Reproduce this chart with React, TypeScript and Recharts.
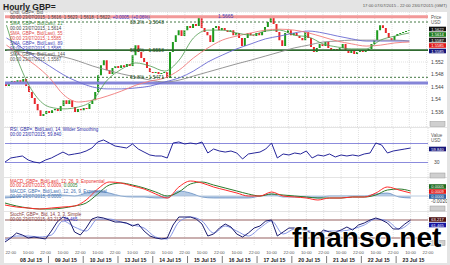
import React from 'react';
import {
  ComposedChart,
  Bar,
  Line,
  Area,
  XAxis,
  YAxis,
  CartesianGrid,
  ReferenceLine,
  Cell
} from 'recharts';

// 2-hour closes, first bar = 18:00 07/07/2015
const closes = [
  1.5443, 1.5453, 1.5459, 1.545, 1.5462, 1.5456, 1.5466, 1.5443, 1.5424, 1.5405,
  1.5386, 1.5366, 1.5347, 1.5354, 1.5363, 1.5357, 1.5366, 1.537, 1.5363, 1.5379,
  1.5398, 1.5386, 1.5398, 1.5376, 1.536, 1.537, 1.5366, 1.5373, 1.537, 1.5386,
  1.5398, 1.5424, 1.5478, 1.551, 1.5526, 1.5494, 1.5482, 1.5501, 1.5507, 1.5501,
  1.551, 1.5504, 1.5514, 1.5507, 1.5542, 1.5574, 1.5552, 1.5533, 1.552, 1.5501,
  1.5488, 1.5485, 1.5488, 1.5482, 1.5485, 1.5488, 1.5469, 1.5552, 1.5584, 1.5606,
  1.5622, 1.5603, 1.5622, 1.5635, 1.5629, 1.5642, 1.5635, 1.5664, 1.5629, 1.5616,
  1.5606, 1.5584, 1.5629, 1.5635, 1.5622, 1.5629, 1.5622, 1.5616, 1.5622, 1.5606,
  1.5613, 1.5597, 1.5571, 1.5597, 1.5613, 1.5606, 1.5603, 1.5613, 1.5606, 1.5616,
  1.5632, 1.5648, 1.5667, 1.5642, 1.5616, 1.559, 1.5571, 1.5613, 1.5622, 1.5606,
  1.5613, 1.5603, 1.5597, 1.559, 1.5616, 1.5597, 1.5568, 1.5552, 1.5565, 1.5578,
  1.5571, 1.5584, 1.5565, 1.5558, 1.5562, 1.5558, 1.5565, 1.5578, 1.5558, 1.5549,
  1.5558, 1.5546, 1.5552, 1.5558, 1.5552, 1.5558, 1.5562, 1.5578, 1.559, 1.5622,
  1.5638, 1.5629, 1.5613, 1.5597, 1.559, 1.5603, 1.561, 1.5613, 1.5616, 1.5619,
  1.5622
];
const firstOpen = 1.545;

// moving averages, one value every 5 bars
const sma21 = [
  1.5638, 1.5501, 1.5414, 1.5376, 1.537, 1.5376, 1.5398, 1.5462, 1.5497, 1.5517,
  1.5507, 1.5491, 1.5526, 1.5597, 1.5622, 1.5622, 1.5613, 1.5606, 1.5619, 1.5622,
  1.5606, 1.56, 1.5578, 1.5568, 1.5562, 1.5562, 1.559, 1.5603, 1.5613
];
const sma55 = [
  1.5574, 1.5542, 1.551, 1.5469, 1.5414, 1.5392, 1.5398, 1.5411, 1.5427, 1.5446,
  1.5459, 1.5469, 1.5494, 1.5533, 1.5565, 1.559, 1.5603, 1.5613, 1.5622, 1.5625,
  1.5622, 1.5613, 1.56, 1.5587, 1.5578, 1.5571, 1.5574, 1.5581, 1.5584
];
const sma89 = [
  1.5597, 1.5568, 1.5536, 1.5507, 1.5478, 1.5456, 1.544, 1.5434, 1.5434, 1.5437,
  1.5443, 1.5456, 1.5469, 1.5491, 1.552, 1.5542, 1.5562, 1.5578, 1.5594, 1.5603,
  1.5613, 1.5619, 1.5613, 1.5603, 1.5594, 1.5587, 1.5587, 1.5587, 1.5587
];
const sma144 = [
  1.5558, 1.5552, 1.5546, 1.5542, 1.5536, 1.5523, 1.5507, 1.5494, 1.5482, 1.5472,
  1.5462, 1.5456, 1.5462, 1.5475, 1.5488, 1.5501, 1.5514, 1.5526, 1.5539, 1.5552,
  1.5565, 1.5574, 1.5584, 1.5587, 1.559, 1.559, 1.559, 1.559, 1.5587
];

// RSI 14, one value every 2 bars
const rsi = [
  31, 39.5, 41.6, 43.7, 35.3, 31, 29, 35.3, 39.5, 45.8,
  52, 45.8, 47.9, 50, 54.2, 60.5, 73.2, 77.4, 71, 64.7,
  62.6, 60.5, 69, 58.4, 52, 45.8, 43.7, 43.7, 39.5, 71,
  73.2, 69, 71, 69, 73.2, 50, 58.4, 54.2, 52, 54.2,
  50, 37.4, 47.9, 50, 52, 58.4, 71, 39.5, 47.9, 45.8,
  50, 47.9, 54.2, 39.5, 45.8, 43.7, 47.9, 41.6, 45.8, 43.7,
  45.8, 43.7, 47.9, 50, 71, 66.8, 50, 54.2, 56.3, 58.4,
  60.5
];

// MACD 12/26/9, one value every 4 bars
const macdLine = [
  -0.0036, -0.0044, -0.0048, -0.0052, -0.0048, -0.0044, -0.004, -0.0016, 0.0028, 0.0056,
  0.0052, 0.004, 0.0028, 0.0008, -0.0008, 0.0036, 0.006, 0.0052, 0.0036, 0.0024,
  0.0012, 0, 0, 0.0016, 0, -0.0004, -0.0008, -0.0016, -0.0008, -0.0008,
  -0.0004, -0.0004, 0.0012, 0.0036, 0.0024, 0.0012
];
const macdSignal = [
  -0.0028, -0.004, -0.0048, -0.0052, -0.0052, -0.0048, -0.004, -0.0028, 0.0008, 0.0044,
  0.0052, 0.0044, 0.0032, 0.0016, 0, 0.0016, 0.0048, 0.0056, 0.0044, 0.0032,
  0.002, 0.0008, 0, 0.0008, 0.0004, 0, -0.0004, -0.0008, -0.0008, -0.0008,
  -0.0004, -0.0004, 0.0004, 0.0024, 0.0028, 0.002
];
const macdHist = [
  -0.0008, -0.0004, 0, 0, 0.0004, 0.0004, 0, 0.0012, 0.002, 0.0012,
  0, -0.0004, -0.0004, -0.0008, -0.0008, 0.002, 0.0012, -0.0004, -0.0008, -0.0008,
  -0.0008, -0.0008, 0, 0.0008, -0.0004, -0.0004, -0.0004, -0.0008, 0, 0,
  0, 0, 0.0008, 0.0012, -0.0004, -0.0008
];

// Stochastic 14/3/3: %K every 2 bars, %D every 4 bars
const stochK = [
  6.7, 20, 36.7, 30, 20, 23.3, 20, 16.7, 43.3, 73.3,
  90, 83.3, 40, 30, 53.3, 83.3, 90, 86.7, 80, 73.3,
  73.3, 70, 60, 66.7, 43.3, 26.7, 20, 16.7, 20, 63.3,
  90, 90, 90, 83.3, 66.7, 26.7, 33.3, 53.3, 66.7, 56.7,
  33.3, 23.3, 36.7, 53.3, 60, 76.7, 80, 26.7, 40, 53.3,
  53.3, 50, 43.3, 36.7, 33.3, 46.7, 40, 40, 46.7, 56.7,
  46.7, 63.3, 70, 80, 86.7, 80, 70, 50, 50, 66.7,
  80
];
const stochD = [
  13.3, 26.7, 26.7, 23.3, 30, 76.7, 56.7, 43.3, 83.3, 83.3,
  73.3, 63.3, 53.3, 23.3, 16.7, 73.3, 90, 76.7, 36.7, 60,
  43.3, 26.7, 53.3, 76.7, 33.3, 50, 46.7, 36.7, 43.3, 43.3,
  50, 63.3, 83.3, 76.7, 50, 73.3
];

const dayLabels = [
  '08 Jul 15', '09 Jul 15', '10 Jul 15', '13 Jul 15', '14 Jul 15', '15 Jul 15',
  '16 Jul 15', '17 Jul 15', '20 Jul 15', '21 Jul 15', '22 Jul 15', '23 Jul 15'
];
const timeLabels = ['22:00', '10:00'];

const resistance = { price: 1.5665, label: '1.5665' };
const support = 1.5453;
const fibLevels = [
  { price: 1.5648, label: '38.2% - 1.5648', dashed: true },
  { price: 1.5558, label: '50.0% - 1.5558', dashed: false },
  { price: 1.5471, label: '61.8% - 1.5471', dashed: true }
];
const priceTicks = [1.536, 1.54, 1.544, 1.548, 1.552];

const TOTAL_BARS = 147; // up to 22:00 23/07
const timeTicks = Array.from({ length: 25 }, (_, j) => 2 + 6 * j);
const dateTicks = dayLabels.map((_, d) => 9 + 12 * d);
const sepTicks = Array.from({ length: 11 }, (_, d) => 15 + 12 * d);

const pick = (arr: number[], i: number, step: number) =>
  i % step === 0 && i / step < arr.length ? arr[i / step] : null;

const rows = Array.from({ length: TOTAL_BARS }, (_, i) => {
  const close = i < closes.length ? closes[i] : null;
  const open = i === 0 ? firstOpen : closes[i - 1];
  return {
    i,
    body: close == null ? null : [Math.min(open, close), Math.max(open, close)],
    up: close != null && close >= open,
    sma21: pick(sma21, i, 5),
    sma55: pick(sma55, i, 5),
    sma89: pick(sma89, i, 5),
    sma144: pick(sma144, i, 5),
    rsi: pick(rsi, i, 2),
    macd: pick(macdLine, i, 4),
    signal: pick(macdSignal, i, 4),
    hist: pick(macdHist, i, 4),
    k: pick(stochK, i, 2),
    d: pick(stochD, i, 4)
  };
});

const CHART_W = 443;
const AXIS_W = 19;
const margin = { top: 0, right: 0, bottom: 0, left: 1 };
const tickStyle = { fontSize: 5, fill: '#444' };

const gridLines = () =>
  timeTicks.map((b) => (
    <ReferenceLine key={`g${b}`} x={b} stroke="#cfcfcf" strokeDasharray="1 1" strokeWidth={0.6} />
  ));

function BottomTick(props: any) {
  const { x, y, payload } = props;
  const v = payload.value;
  const t = timeTicks.indexOf(v);
  if (t >= 0) {
    return (
      <text x={x} y={y + 1} fontSize={4.3} textAnchor="middle" fill="#555">
        {timeLabels[t % 2]}
      </text>
    );
  }
  const d = dateTicks.indexOf(v);
  if (d >= 0) {
    return (
      <text x={x} y={y + 8.5} fontSize={5.2} fontWeight="bold" textAnchor="middle" fill="#222">
        {dayLabels[d]}
      </text>
    );
  }
  return <line x1={x} x2={x} y1={y + 3} y2={y + 10} stroke="#444" strokeWidth={0.7} />;
}

function PriceChart() {
  return (
    <ComposedChart width={CHART_W} height={115} data={rows} margin={margin}>
      <XAxis dataKey="i" hide />
      <YAxis
        orientation="right"
        width={AXIS_W}
        domain={[1.5312, 1.568]}
        allowDataOverflow
        ticks={priceTicks}
        tickFormatter={(v) => String(+v.toFixed(3))}
        tick={tickStyle}
        tickSize={2}
        tickMargin={1}
        axisLine={false}
        tickLine={false}
      />
      <CartesianGrid vertical={false} stroke="#cfcfcf" strokeDasharray="1 1" strokeWidth={0.6} />
      {gridLines()}
      <ReferenceLine
        y={resistance.price}
        stroke="#f29999"
        strokeWidth={3}
        label={{ value: resistance.label, position: 'insideLeft', dx: 208, fontSize: 5, fill: '#3d3db5' }}
      />
      <ReferenceLine y={support} stroke="#8585d8" strokeWidth={3} />
      {fibLevels.map((f) => (
        <ReferenceLine
          key={f.label}
          y={f.price}
          stroke="#2f6a2f"
          strokeWidth={f.dashed ? 0.9 : 1.6}
          strokeDasharray={f.dashed ? '2 2' : undefined}
          label={{ value: f.label, position: 'insideLeft', dx: 120, fontSize: 5, fill: '#1f4f1f' }}
        />
      ))}
      <Line dataKey="sma144" type="monotone" connectNulls dot={false} stroke="#8a8a8a" strokeWidth={0.9} isAnimationActive={false} />
      <Line dataKey="sma89" type="monotone" connectNulls dot={false} stroke="#6b6bd2" strokeWidth={0.9} isAnimationActive={false} />
      <Line dataKey="sma55" type="monotone" connectNulls dot={false} stroke="#f07a7a" strokeWidth={0.9} isAnimationActive={false} />
      <Line dataKey="sma21" type="monotone" connectNulls dot={false} stroke="#4f9a4f" strokeWidth={0.8} isAnimationActive={false} />
      <Bar dataKey="body" barSize={2} isAnimationActive={false}>
        {rows.map((r) => (
          <Cell key={r.i} fill={r.up ? '#1c9a1c' : '#e8262b'} />
        ))}
      </Bar>
    </ComposedChart>
  );
}

function RsiChart() {
  return (
    <ComposedChart width={CHART_W} height={49} data={rows} margin={margin}>
      <XAxis dataKey="i" hide />
      <YAxis
        orientation="right"
        width={AXIS_W}
        domain={[-0.5, 102.6]}
        allowDataOverflow
        ticks={[30]}
        tick={tickStyle}
        tickSize={2}
        tickMargin={4}
        axisLine={false}
        tickLine={false}
      />
      {gridLines()}
      <ReferenceLine y={70} stroke="#8b8bdc" strokeWidth={1.1} />
      <ReferenceLine y={30} stroke="#8b8bdc" strokeWidth={1.1} />
      <Line dataKey="rsi" type="linear" connectNulls dot={false} stroke="#26269a" strokeWidth={1} isAnimationActive={false} />
    </ComposedChart>
  );
}

function MacdChart() {
  return (
    <ComposedChart width={CHART_W} height={33} data={rows} margin={margin}>
      <XAxis dataKey="i" hide />
      <YAxis
        orientation="right"
        width={AXIS_W}
        domain={[-0.006, 0.0072]}
        allowDataOverflow
        ticks={[-0.002]}
        tickFormatter={(v) => v.toFixed(4)}
        tick={tickStyle}
        tickSize={2}
        tickMargin={1}
        axisLine={false}
        tickLine={false}
      />
      {gridLines()}
      <ReferenceLine y={0} stroke="#a9bfd8" strokeWidth={0.8} />
      <Area dataKey="hist" type="monotone" connectNulls baseValue={0} fill="#5b8cc8" fillOpacity={0.45} stroke="#3f70b0" strokeWidth={0.6} isAnimationActive={false} />
      <Line dataKey="signal" type="monotone" connectNulls dot={false} stroke="#2b7a2b" strokeWidth={1} isAnimationActive={false} />
      <Line dataKey="macd" type="monotone" connectNulls dot={false} stroke="#ff2a2a" strokeWidth={1} isAnimationActive={false} />
    </ComposedChart>
  );
}

function StochChart() {
  return (
    <ComposedChart width={CHART_W} height={51} data={rows} margin={margin}>
      <XAxis
        dataKey="i"
        ticks={[...timeTicks, ...dateTicks, ...sepTicks]}
        interval={0}
        tick={<BottomTick />}
        axisLine={false}
        tickLine={false}
        height={18}
      />
      <YAxis orientation="right" width={AXIS_W} domain={[-3.3, 106.7]} allowDataOverflow tick={false} axisLine={false} tickLine={false} />
      {gridLines()}
      <ReferenceLine y={80} stroke="#b89595" strokeWidth={1.4} />
      <ReferenceLine y={20} stroke="#b89595" strokeWidth={1.4} />
      <Line dataKey="d" type="monotone" connectNulls dot={false} stroke="#8595e6" strokeWidth={1} isAnimationActive={false} />
      <Line dataKey="k" type="linear" connectNulls dot={false} stroke="#1b1b6e" strokeWidth={1} isAnimationActive={false} />
    </ComposedChart>
  );
}

const legendLines = [
  { y: 14, parts: [['Cndl, GBP=, Bid', '#555']] },
  { y: 18.5, parts: [['00:00 23/07/2015, 1.5616, 1.5623, 1.5618, 1.5622, ', '#444'], ['+0.0005, (+0.06%)', '#3535c8']] },
  { y: 24.5, parts: [['SMA, GBP=, Bid(Last), 21', '#3f8f3f']] },
  { y: 29.5, parts: [['00:00 23/07/2015, 1.5614', '#444']] },
  { y: 34.5, parts: [['SMA, GBP=, Bid(Last), 55', '#e24a4a']] },
  { y: 39.5, parts: [['00:00 23/07/2015, 1.5585', '#e24a4a']] },
  { y: 44.5, parts: [['SMA, GBP=, Bid(Last), 89', '#4646b8']] },
  { y: 49.5, parts: [['00:00 23/07/2015, 1.5585', '#4646b8']] },
  { y: 55.5, parts: [['SMA, GBP=, Bid(Last), 144', '#555']] },
  { y: 60.5, parts: [['00:00 23/07/2015, 1.5587', '#555']] },
  { y: 131, parts: [['RSI, GBP=, Bid(Last), 14, Wilder Smoothing', '#2e2ea8']] },
  { y: 135.5, parts: [['00:00 23/07/2015, 59.840', '#2e2ea8']] },
  { y: 182.5, parts: [['MACD, GBP=, Bid(Last), 12, 26, 9, Exponential', '#e83030']] },
  { y: 187, parts: [['00:00 23/07/2015, 0.0009, ', '#e83030'], ['0.0005', '#2b7a2b']] },
  { y: 192.5, parts: [['MACDF, GBP=, Bid(Last), 12, 26, 9, Exponential', '#3f70b0']] },
  { y: 197.5, parts: [['00:00 23/07/2015, 0.0000', '#3f70b0']] },
  { y: 216, parts: [['StochF, GBP=, Bid, 14, 3, 3, Simple', '#8a3c3c']] },
  { y: 220.5, parts: [['00:00 23/07/2015, 63.217, ', '#8a3c3c'], ['61.465', '#3535c8']] }
];

const valueBoxes = [
  { y: 29, text: '1.5622', bg: '#111' },
  { y: 34.5, text: '1.5614', bg: '#1f7a1f' },
  { y: 40, text: '1.5587', bg: '#222' },
  { y: 45.5, text: '1.5585', bg: '#e01818' },
  { y: 51, text: '1.5585', bg: '#15157a' },
  { y: 149, text: '59.840', bg: '#15157a' },
  { y: 186.5, text: '0.0005', bg: '#1f6a1f' },
  { y: 191.5, text: '0.0009', bg: '#e01818' },
  { y: 196.5, text: '0.0000', bg: '#2f5f9f' },
  { y: 219.5, text: '63.217', bg: '#4a0f0f' },
  { y: 225, text: '61.465', bg: '#1515a0' }
];
const scaleBoxes = [124, 175.5, 208.5, 243];

function Overlay() {
  return (
    <svg width={450} height={265} style={{ position: 'absolute', left: 0, top: 0 }}>
      <text x={3} y={10} fontSize={8.5} fontWeight="bold" fill="#222">
        Hourly GBP=
      </text>
      <text x={447} y={6.5} fontSize={4.3} textAnchor="end" fill="#555">
        17:00 07/07/2015 - 22:00 23/07/2015 (GMT)
      </text>
      {legendLines.map((l, n) => (
        <text key={n} x={10} y={l.y} fontSize={4.5}>
          {l.parts.map(([t, c], m) => (
            <tspan key={m} fill={c}>
              {t}
            </tspan>
          ))}
        </text>
      ))}
      <text x={431} y={19} fontSize={4.5} fill="#555">Price</text>
      <text x={431} y={23.5} fontSize={4.5} fill="#555">USD</text>
      <text x={431} y={137} fontSize={4.5} fill="#555">Value</text>
      <text x={431} y={141.5} fontSize={4.5} fill="#555">USD</text>
      {valueBoxes.map((b, n) => (
        <g key={n}>
          <rect x={429} y={b.y - 2.3} width={17} height={4.6} fill={b.bg} />
          <text x={437.5} y={b.y + 1.5} fontSize={4.1} textAnchor="middle" fill="#fff">
            {b.text}
          </text>
        </g>
      ))}
      {scaleBoxes.map((y) => (
        <rect key={y} x={430} y={y - 2.5} width={15} height={5} fill="#cfcfcf" stroke="#999" strokeWidth={0.5} />
      ))}
      <text
        x={292}
        y={247}
        fontSize={28}
        fontWeight="bold"
        fill="#000"
        stroke="#fff"
        strokeWidth={1.5}
        paintOrder="stroke"
        style={{ fontFamily: '"Liberation Sans", Arial, sans-serif' }}
      >
        finanso.net
      </text>
    </svg>
  );
}

const pane = (top: number, height: number): React.CSSProperties => ({
  position: 'absolute',
  left: 4,
  top,
  width: CHART_W,
  height,
  background: '#fff'
});

export default function App() {
  return (
    <div
      style={{
        position: 'absolute',
        left: 0,
        top: 0,
        width: 450,
        height: 265,
        background: '#e4e4e4',
        overflow: 'hidden',
        fontFamily: '"Liberation Sans", Arial, sans-serif'
      }}
    >
      <div style={pane(12, 115)}>
        <PriceChart />
      </div>
      <div style={pane(128, 49)}>
        <RsiChart />
      </div>
      <div style={pane(178, 33)}>
        <MacdChart />
      </div>
      <div style={pane(212, 51)}>
        <StochChart />
      </div>
      <Overlay />
    </div>
  );
}
